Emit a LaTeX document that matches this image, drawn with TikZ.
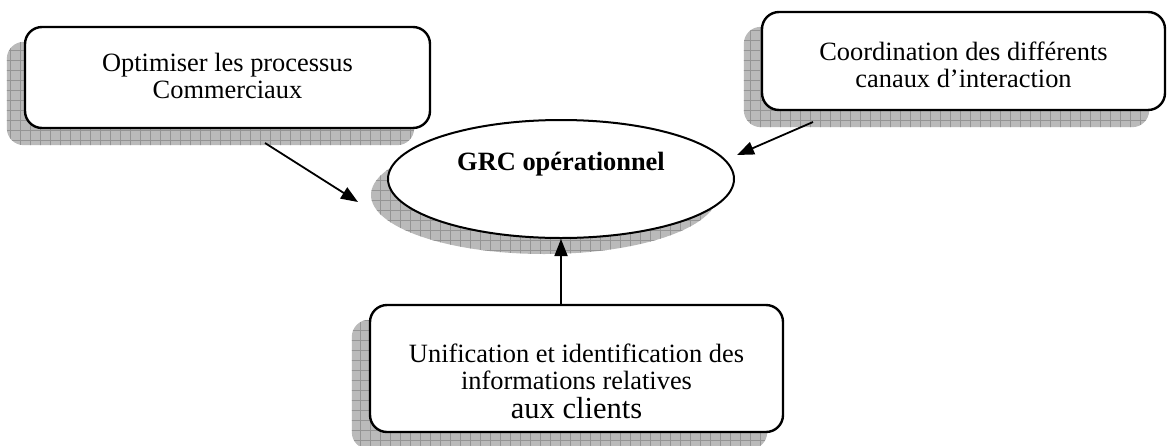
\documentclass[tikz,border=0pt]{standalone}
\usepackage{fontspec}
\setmainfont{Liberation Serif}
\usetikzlibrary{shapes.geometric,arrows.meta,backgrounds,calc}
\newcommand{\shtext}[2]{\raisebox{#1}[0pt][0pt]{\begin{tabular}{@{}c@{}}#2\end{tabular}}}
\begin{document}
\begin{tikzpicture}[x=1pt,y=-1pt,
  box/.style={draw, line width=2.4pt, rounded corners=17pt, fill=white, inner sep=0pt},
  oval/.style={draw, ellipse, line width=2pt, fill=white, inner sep=0pt},
  arr/.style={line width=1.8pt, -{Triangle[length=17pt,width=13pt]}},
  shfill/.style={fill=black!27},
  grd/.style={draw=black!42, line width=0.6pt},
  txt/.style={font=\fontsize{26.4}{27}\selectfont}
]
\useasboundingbox (0,0) rectangle (1167,445);

\node[box, txt, minimum width=405pt, minimum height=101pt] (b1) at (227.5,77.5)
  {\shtext{-8pt}{Optimiser les processus\\Commerciaux}};
\node[box, txt, minimum width=403pt, minimum height=98pt] (b2) at (963.5,61)
  {\shtext{-14pt}{Coordination des différents\\canaux d’interaction}};
\node[oval, txt, minimum width=346pt, minimum height=118pt] (ell) at (561,179)
  {\shtext{8pt}{\bfseries GRC opérationnel}};
\node[box, txt, minimum width=413pt, minimum height=127pt] (b3) at (576.5,368.5)
  {\shtext{-23pt}{Unification et identification des\\informations relatives\\{\fontsize{30.5}{31}\selectfont aux clients}}};

\begin{scope}[on background layer]
  \foreach \n in {b1,b2,b3}{
    \begin{scope}
      \clip[rounded corners=17pt] ($(\n.south west)+(-17,16)$) rectangle ($(\n.north east)+(-17,16)$);
      \fill[shfill] (0,0) rectangle (1167,470);
      \draw[grd, step=10pt] (0,0) grid (1167,470);
    \end{scope}
  }
  \begin{scope}
    \clip ($(ell.center)+(-17,16)$) ellipse [x radius=173, y radius=59];
    \fill[shfill] (0,0) rectangle (1167,470);
    \draw[grd, step=10pt] (0,0) grid (1167,470);
  \end{scope}
\end{scope}

\coordinate (a1s) at (265,143);
\coordinate (a1e) at (358,202);
\coordinate (a2s) at (813,122);
\coordinate (a2e) at (737,155);
\draw[arr] (a1s) -- (a1e);
\draw[arr] (a2s) -- (a2e);
\draw[arr] (b3.north -| ell.south) -- (ell.south);
\end{tikzpicture}
\end{document}
